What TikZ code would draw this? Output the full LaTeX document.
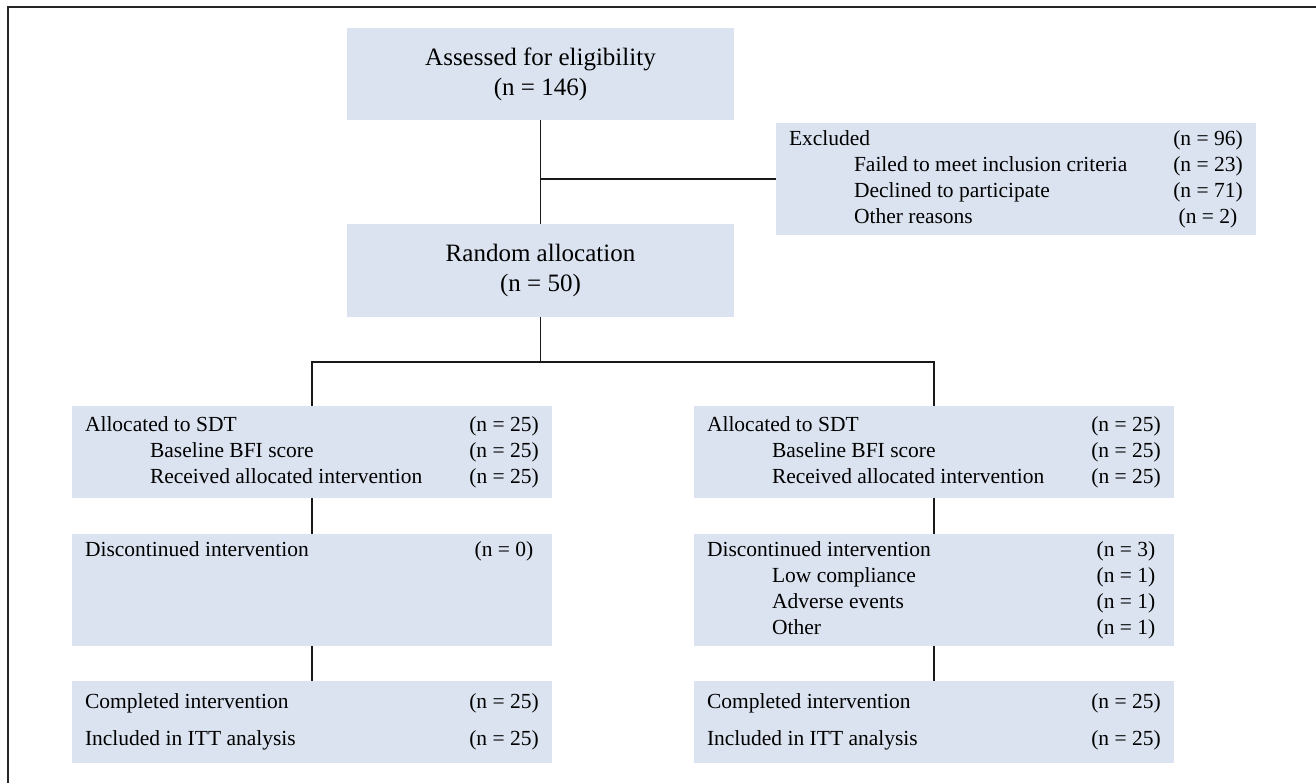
\documentclass[tikz,border=0pt]{standalone}
\usepackage{fontspec}
\setmainfont{Liberation Serif}
\definecolor{boxblue}{RGB}{219,227,240}
\newcommand{\cnt}[1]{\makebox[70pt]{#1}}
\newcommand{\ind}{\hspace*{65pt}}
\newcommand{\rows}[1]{\begin{tabular*}{454pt}{@{}l@{\extracolsep{\fill}}r@{}}#1\end{tabular*}}
\tikzset{
  bigbox/.style={fill=boxblue, minimum width=387pt, minimum height=92pt, align=center, font=\fontsize{25}{30}\selectfont},
  listbox/.style={fill=boxblue, inner xsep=13pt, inner ysep=0pt, font=\fontsize{21.5}{26}\selectfont},
  link/.style={line width=1.8pt, black!90}
}
\begin{document}
\begin{tikzpicture}[x=1pt, y=-1pt]
\useasboundingbox (0,0) rectangle (1316,783);
\begin{scope}
\clip (0,0) rectangle (1316,783);
\draw[line width=2pt, black!85] (8,7) rectangle (1330,800);
\end{scope}

% enrolment
\node[bigbox] (assess) at (540.5,74) {Assessed for eligibility\\(n = 146)};
\node[listbox, minimum height=112pt] (excl) at (1016,179) {\rows{
Excluded & \cnt{(n = 96)}\\
\ind Failed to meet inclusion criteria & \cnt{(n = 23)}\\
\ind Declined to participate & \cnt{(n = 71)}\\
\ind Other reasons & \cnt{(n = 2)}}};
\node[bigbox, minimum height=93pt] (rand) at (540.5,270.5) {Random allocation\\(n = 50)};

% allocation
\node[listbox, minimum height=92pt] (allocL) at (312,452) {\rows{
Allocated to SDT & \cnt{(n = 25)}\\
\ind Baseline BFI score & \cnt{(n = 25)}\\
\ind Received allocated intervention & \cnt{(n = 25)}}};
\node[listbox, minimum height=92pt] (allocR) at (934,452) {\rows{
Allocated to SDT & \cnt{(n = 25)}\\
\ind Baseline BFI score & \cnt{(n = 25)}\\
\ind Received allocated intervention & \cnt{(n = 25)}}};

% follow-up
\node[listbox, minimum height=112pt] (discL) at (312,590) {\rows{
Discontinued intervention & \cnt{(n = 0)}\\ & \\ & \\ & }};
\node[listbox, minimum height=112pt] (discR) at (934,590) {\rows{
Discontinued intervention & \cnt{(n = 3)}\\
\ind Low compliance & \cnt{(n = 1)}\\
\ind Adverse events & \cnt{(n = 1)}\\
\ind Other & \cnt{(n = 1)}}};

% analysis
\node[listbox, minimum height=82pt] (compL) at (312,722) {\rows{
Completed intervention & \cnt{(n = 25)}\\[11pt]
Included in ITT analysis & \cnt{(n = 25)}}};
\node[listbox, minimum height=82pt] (compR) at (934,722) {\rows{
Completed intervention & \cnt{(n = 25)}\\[11pt]
Included in ITT analysis & \cnt{(n = 25)}}};

\coordinate (split) at (540.5,362);
\draw[link] (assess) -- (rand);
\draw[link] (assess.south |- excl.west) -- (excl.west);
\draw[link] (rand) -- (split);
\draw[link] (allocL.north) |- (split) -| (allocR.north);
\draw[link] (allocL) -- (discL);
\draw[link] (discL) -- (compL);
\draw[link] (allocR) -- (discR);
\draw[link] (discR) -- (compR);
\end{tikzpicture}
\end{document}
